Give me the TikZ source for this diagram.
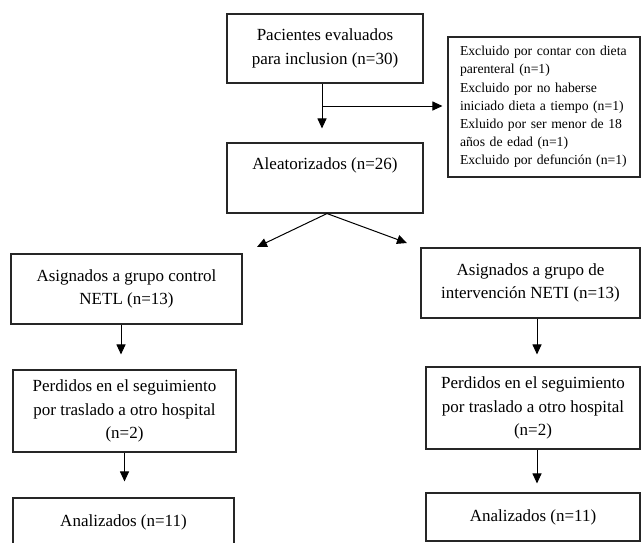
\documentclass[tikz,border=0pt]{standalone}
\usepackage{fontspec}
\setmainfont{Liberation Serif}
\usepackage{tikz}
\usetikzlibrary{arrows.meta,positioning,calc}
\tikzset{
    box color/.style={draw=black!85},
    box/.style={box color,line width=1.1pt,inner sep=0pt,align=center},
    small text/.style={font=\fontsize{13.7}{18.2}\selectfont},
    arr/.style={-{Triangle[length=10pt,width=9pt]},line width=1pt},
}
\tikzstyle{every node}=[font=\fontsize{17}{23.5}\selectfont]

\begin{document}
\begin{tikzpicture}[x=1pt,y=-1pt]
    \useasboundingbox (0,0) rectangle (642,542);
    \clip (0,0) rectangle (642,542);
    % main column
    \node[box,minimum width=196,minimum height=69] (pac) at (325,48.5) {Pacientes evaluados\\para inclusion (n=30)};
    \node[box,small text,align=left,text width=168,minimum width=192,minimum height=140] (excl) at (544,107)
        {Excluido por contar con dieta\\parenteral (n=1)\\Excluido por no haberse\\iniciado dieta a tiempo (n=1)\\Exluido por ser menor de 18\\años de edad (n=1)\\Excluido por defunción (n=1)};
    \node[box,minimum width=196,minimum height=70] (alea) at (325,178) {Aleatorizados (n=26)\\[6pt]\mbox{}};
    % the two arms
    \node[box,minimum width=231,minimum height=70] (ctrl) at (126.5,289) {Asignados a grupo control\\NETL (n=13)};
    \node[box,minimum width=219,minimum height=70] (intv) at (530.5,283) {Asignados a grupo de\\intervención NETI (n=13)};
    \node[box,minimum width=223,minimum height=82] (lostL) at (124.5,411) {Perdidos en el seguimiento\\por traslado a otro hospital\\(n=2)};
    \node[box,minimum width=214,minimum height=82] (lostR) at (533,408) {Perdidos en el seguimiento\\por traslado a otro hospital\\(n=2)};
    \node[box,minimum width=221,minimum height=48] (anaL) at (123.5,522) {Analizados (n=11)};
    \node[box,minimum width=214,minimum height=48] (anaR) at (533,517) {Analizados (n=11)};

    \coordinate (split) at (322,106);
    \coordinate (toCtrl) at (257,247);
    \coordinate (toIntv) at (407,243);

    \draw[arr,shorten >=14pt] ([xshift=-3pt]pac.south) -- ([xshift=-3pt]alea.north);
    \draw[arr,shorten >=5pt] (split) -- (split -| excl.west);
    \draw[arr] ([xshift=2pt]alea.south) -- (toCtrl);
    \draw[arr] ([xshift=2pt]alea.south) -- (toIntv);
    \draw[arr,shorten >=15pt] ([xshift=-5.5pt]ctrl.south) -- ([xshift=-3.5pt]lostL.north);
    \draw[arr,shorten >=12pt] ([xshift=6.5pt]intv.south) -- ([xshift=4pt]lostR.north);
    \draw[arr,shorten >=16pt] (lostL.south) -- (lostL.south |- anaL.north);
    \draw[arr,shorten >=9pt] ([xshift=4pt]lostR.south) -- ([xshift=4pt]anaR.north);
\end{tikzpicture}
\end{document}
